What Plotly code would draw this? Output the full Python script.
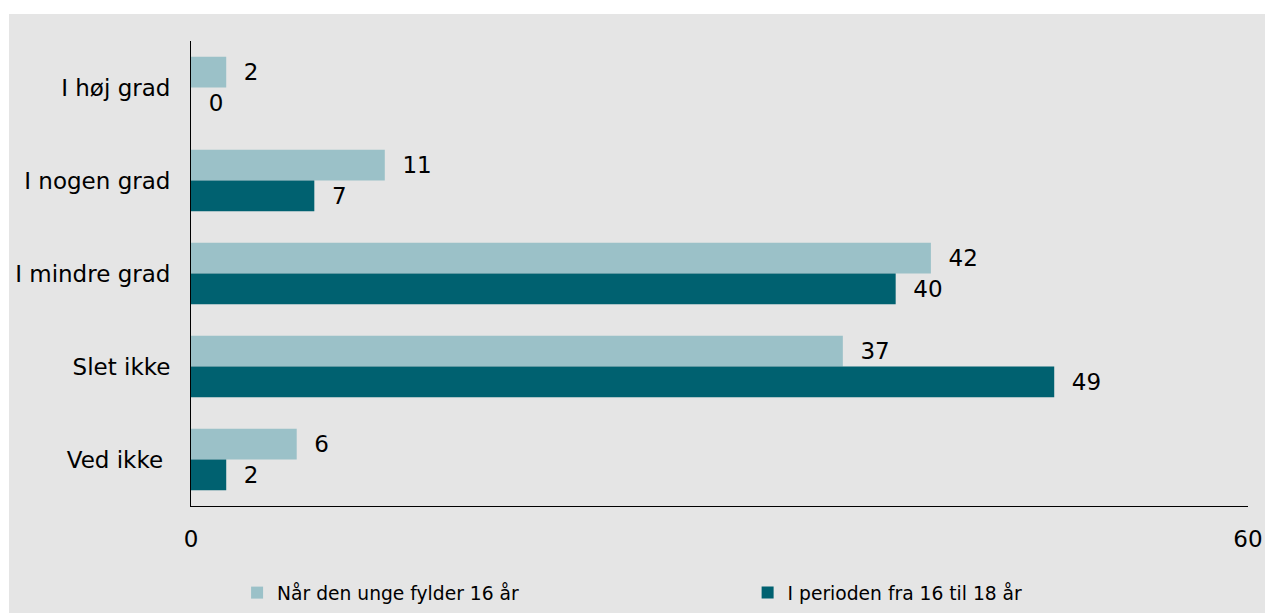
import plotly.graph_objects as go

categories = ["I høj grad", "I nogen grad", "I mindre grad", "Slet ikke", "Ved ikke\u00a0"]
series_names = ["Når den unge fylder 16 år", "I perioden fra 16 til 18 år"]
values_16 = [2, 11, 42, 37, 6]
values_16_18 = [0, 7, 40, 49, 2]
x_ticks = [0, 60]

colors = ["#9bc1c8", "#006170"]
FONT = "DejaVu Sans, Verdana, sans-serif"

fig = go.Figure()
for i, (name, vals, col) in enumerate(zip(series_names, [values_16, values_16_18], colors)):
    fig.add_trace(go.Bar(
        y=categories, x=vals, name=name, orientation="h",
        marker=dict(color=col, line=dict(width=0)),
        text=vals, texttemplate="\u00a0\u00a0%{x}", textposition="outside",
        textfont=dict(size=23, color="#000000", family=FONT),
        constraintext="none", cliponaxis=False,
        legend="legend" if i == 0 else "legend2",
    ))

leg_common = dict(orientation="h", xanchor="left", yanchor="middle", y=-0.187,
                  font=dict(size=18.7, family=FONT, color="#000000"),
                  bgcolor="rgba(0,0,0,0)")
fig.update_layout(
    width=1265, height=613,
    margin=dict(l=191, r=17, t=41, b=107, autoexpand=False),
    paper_bgcolor="#ffffff", plot_bgcolor="#e5e5e5",
    barmode="group", bargap=0.34, bargroupgap=0,
    font=dict(family=FONT, size=23, color="#000000"),
    showlegend=True,
    legend=dict(x=0.0436, **leg_common),
    legend2=dict(x=0.5266, **leg_common),
    shapes=[dict(type="rect", xref="paper", yref="paper", x0=-0.1722, x1=1.1, y0=-0.3, y1=1.058,
                 fillcolor="#e5e5e5", line=dict(width=0), layer="below")],
)
fig.update_xaxes(range=[0, 60], tickvals=x_ticks, ticks="inside", ticklen=6, tickcolor="#555555",
                 showline=True, linecolor="#000000", linewidth=1, showgrid=False, zeroline=False,
                 ticklabelstandoff=12, tickfont=dict(size=23))
fig.update_yaxes(autorange="reversed", showline=True, linecolor="#000000", linewidth=1,
                 ticks="", showgrid=False, ticklabelstandoff=15, tickfont=dict(size=23))

fig.write_html("out.html", config={"displayModeBar": False},
               post_script="document.body.style.margin='0';document.body.style.overflow='hidden';")
